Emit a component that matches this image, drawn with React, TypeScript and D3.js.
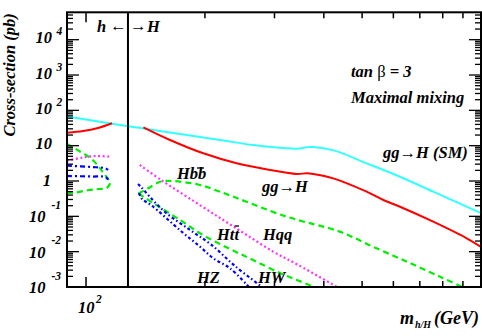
import React from 'react';
import * as d3 from 'd3';

// gg -> H (SM), cyan
const smMass = [89.5, 121.9, 148.0, 179.9, 218.4, 265.1, 322.2, 348.2, 362.1, 376.0, 422.0, 513.6, 623.7, 757.0, 1000];
const smSigma = [66.9, 38.5, 27.8, 20.0, 14.5, 10.4, 8.4, 8.3, 9.1, 9.2, 7.5, 3.17, 1.32, 0.498, 0.124];

// gg -> h / gg -> H, red
const hGgMass = [89.5, 98.3, 106.6, 116.4];
const hGgSigma = [23.3, 26.0, 31.0, 43.0];
const bigGgMass = [139.7, 163.2, 198.2, 240.7, 292.3, 341.5, 362.1, 376.0, 422.7, 513.6, 566.0, 623.7, 757.0, 920.2, 1000];
const bigGgSigma = [33.1, 14.5, 6.08, 3.17, 2.05, 1.58, 1.65, 1.58, 1.19, 0.498, 0.29, 0.187, 0.0705, 0.0239, 0.0136];

// h bb / h tt, green
const hBbMass = [89.5, 92.2, 96.7, 100.6, 104.6, 107.7, 110.9, 114.2, 115.2];
const hBbSigma = [11.2, 9.35, 6.75, 5.2, 3.68, 2.54, 1.65, 1.07, 0.861];
const hTtMass = [89.5, 94.9, 101.6, 107.7, 113.0, 115.2];
const hTtSigma = [0.449, 0.479, 0.556, 0.594, 0.646, 0.861];

// h qq, magenta
const hQqMass = [89.5, 97.7, 105.6, 115.2];
const hQqSigma = [3.8, 4.57, 5.1, 4.87];

// h W / h Z, blue
const hWMass = [89.5, 103.6, 111.9, 113.7];
const hWSigma = [2.71, 2.49, 2.29, 2.05];
const hZMass = [89.5, 103.6, 111.9, 113.7];
const hZSigma = [1.39, 1.34, 1.3, 1.1];

// H bb / H tt, green
const bigBbMass = [135.8, 143.6, 154.8, 165.1, 192.1, 218.4, 322.2, 439.5, 533.0, 649.8, 787.8, 895.5];
const bigBbSigma = [0.443, 0.621, 0.968, 1.0, 0.796, 0.498, 0.0976, 0.0367, 0.0138, 0.0052, 0.00195, 0.001];
const bigTtMass = [135.8, 147.8, 173.0, 197.8, 231.5, 264.7, 309.8, 342.1, 377.9];
const bigTtSigma = [0.443, 0.238, 0.0787, 0.0296, 0.0119, 0.00581, 0.00249, 0.00158, 0.001];

// H qq, magenta
const bigQqMass = [136.8, 154.9, 188.4, 222.6, 255.3, 298.0, 344.8, 432.0];
const bigQqSigma = [2.84, 1.07, 0.259, 0.0787, 0.0296, 0.00997, 0.00419, 0.001];

// H W / H Z, blue
const bigWMass = [135.4, 137.8, 145.2, 158.5, 183.4, 208.1, 238.3, 279.0];
const bigWSigma = [0.822, 0.676, 0.352, 0.1327, 0.041, 0.0154, 0.00393, 0.001];
const bigZMass = [136.2, 138.6, 146.1, 174.7, 194.4, 210.1, 231.5, 258.6];
const bigZSigma = [0.457, 0.309, 0.209, 0.0367, 0.0138, 0.00649, 0.00338, 0.001];

// axes
const xTicks = [100, 200, 300, 400, 500, 600, 700, 800, 900];
const yExps = [-3, -2, -1, 0, 1, 2, 3, 4];
const hMassLine = 127.7;

const zip = (ms: number[], ss: number[]) => ms.map((m, i) => [m, ss[i]] as [number, number]);

const FONT = 'Liberation Serif';

export default function App() {
  const width = 482;
  const height = 336;
  const left = 67;
  const right = 481;
  const top = 12.3;
  const bottom = 287;

  const x = d3.scaleLog().domain([89.5, 1000]).range([left, right]);
  const y = d3.scaleLog().domain([1e-3, 5.96e4]).range([bottom, top]);

  const line = d3
    .line<[number, number]>()
    .x(d => x(d[0]))
    .y(d => y(d[1]))
    .curve(d3.curveCatmullRom.alpha(0.5));

  const green = '#00ee00';
  const magenta = '#ff33ff';
  const blue = '#0000ff';
  const series = [
    { id: 'sm', data: zip(smMass, smSigma), color: '#33ffff', dash: null },
    { id: 'hgg', data: zip(hGgMass, hGgSigma), color: '#ff0000', dash: null },
    { id: 'Hgg', data: zip(bigGgMass, bigGgSigma), color: '#ff0000', dash: null },
    { id: 'hbb', data: zip(hBbMass, hBbSigma), color: green, dash: '6,4' },
    { id: 'htt', data: zip(hTtMass, hTtSigma), color: green, dash: '6,4' },
    { id: 'Hbb', data: zip(bigBbMass, bigBbSigma), color: green, dash: '6,4' },
    { id: 'Htt', data: zip(bigTtMass, bigTtSigma), color: green, dash: '6,4' },
    { id: 'hqq', data: zip(hQqMass, hQqSigma), color: magenta, dash: '2,2.5' },
    { id: 'Hqq', data: zip(bigQqMass, bigQqSigma), color: magenta, dash: '2,2.5' },
    { id: 'hW', data: zip(hWMass, hWSigma), color: blue, dash: '5,3,2,3' },
    { id: 'hZ', data: zip(hZMass, hZSigma), color: blue, dash: '5,3,2,3' },
    { id: 'HW', data: zip(bigWMass, bigWSigma), color: blue, dash: '3,2.5,1.5,2.5' },
    { id: 'HZ', data: zip(bigZMass, bigZSigma), color: blue, dash: '3,2.5,1.5,2.5' },
  ];

  // y ticks, major + minor
  const yTicks: { v: number; major: boolean }[] = [];
  yExps.forEach(e => {
    for (let k = 1; k <= 9; k++) {
      const v = k * Math.pow(10, e);
      if (v <= y.domain()[1]) yTicks.push({ v, major: k === 1 });
    }
  });

  const paths = series.map(s => (
    <path
      key={s.id}
      d={line(s.data) || ''}
      fill="none"
      stroke={s.color}
      strokeWidth={s.dash ? 2.2 : 2}
      strokeDasharray={s.dash || undefined}
    />
  ));

  const yLabels = yExps.map(e => {
    const ty = y(Math.pow(10, e));
    if (e === 0) {
      return (
        <text key={e} x={51} y={ty + 4.5} textAnchor="end">1</text>
      );
    }
    if (e === 1) {
      return (
        <text key={e} x={52} y={ty + 3.5} textAnchor="end">10</text>
      );
    }
    const neg = e < 0;
    return (
      <g key={e}>
        <text x={neg ? 45.5 : 52} y={ty + (neg ? 6 : 3.5)} textAnchor="end">10</text>
        <text x={neg ? 51.5 : 56.5} y={ty + (neg ? -7.5 : -4.5)} fontSize={11.5}>{String(e)}</text>
      </g>
    );
  });

  return (
    <svg
      width={width}
      height={height}
      style={{ position: 'absolute', left: 0, top: 0, background: '#fff', fontFamily: FONT }}
      fontWeight="bold"
      fontStyle="italic"
    >
      <defs>
        <clipPath id="frame">
          <rect x={left} y={top} width={right - left} height={bottom - top} />
        </clipPath>
      </defs>
      <rect width={width} height={height} fill="#fff" />

      <g clipPath="url(#frame)">{paths}</g>

      {/* frame */}
      <rect x={left} y={top} width={right - left} height={bottom - top} fill="none" stroke="#000" strokeWidth={2} />
      <line x1={x(hMassLine)} x2={x(hMassLine)} y1={top} y2={bottom} stroke="#000" strokeWidth={2} />

      {/* x ticks bottom + top */}
      {xTicks.map(t => {
        const len = t === 100 ? 10 : 6;
        return (
          <g key={t}>
            <line x1={x(t)} x2={x(t)} y1={bottom} y2={bottom - len} stroke="#000" strokeWidth={1.5} />
            <line x1={x(t)} x2={x(t)} y1={top} y2={top + len} stroke="#000" strokeWidth={1.5} />
          </g>
        );
      })}

      {/* y ticks left + right */}
      {yTicks.map(t => {
        const len = t.major ? 12 : 6;
        return (
          <g key={t.v}>
            <line x1={left} x2={left + len} y1={y(t.v)} y2={y(t.v)} stroke="#000" strokeWidth={1.3} />
            <line x1={right} x2={right - len} y1={y(t.v)} y2={y(t.v)} stroke="#000" strokeWidth={1.3} />
          </g>
        );
      })}

      {/* tick labels */}
      <g fontSize={16.5}>{yLabels}</g>
      <g fontSize={16.5}>
        <text x={x(100) + 8.5} y={313} textAnchor="end">10</text>
        <text x={x(100) + 10} y={303} fontSize={11.5}>2</text>
      </g>

      {/* axis titles */}
      <text transform={`translate(15,${top + 1}) rotate(-90)`} textAnchor="end" fontSize={16.5}>
        Cross-section (pb)
      </text>
      <text x={400} y={324} fontSize={18}>m</text>
      <text x={415} y={328} fontSize={10}>h/H</text>
      <text x={434} y={324} fontSize={18}>(GeV)</text>

      {/* annotations */}
      <g fontSize={16.5}>
        <text x={97} y={32}>h</text>
        <text x={110} y={31} fontStyle="normal">{'\u2190'}</text>
        <text x={130} y={31} fontStyle="normal">{'\u2192'}</text>
        <text x={147} y={32}>H</text>

        <text x={351} y={77}>
          tan <tspan fontStyle="normal" fontWeight="normal">{'\u03b2'}</tspan> = 3
        </text>
        <text x={351} y={103}>Maximal mixing</text>
        <text x={383} y={158}>gg{'\u2192'}H (SM)</text>
        <text x={262} y={192}>gg{'\u2192'}H</text>
        <text x={177} y={179}>Hbb</text>
        <line x1={197} x2={204} y1={168} y2={168} stroke="#000" strokeWidth={1.3} />
        <text x={217} y={240}>Htt</text>
        <line x1={234.5} x2={239} y1={226} y2={226} stroke="#000" strokeWidth={1.3} />
        <text x={263} y={240}>Hqq</text>
        <text x={197} y={283}>HZ</text>
        <text x={258} y={283}>HW</text>
      </g>
    </svg>
  );
}
